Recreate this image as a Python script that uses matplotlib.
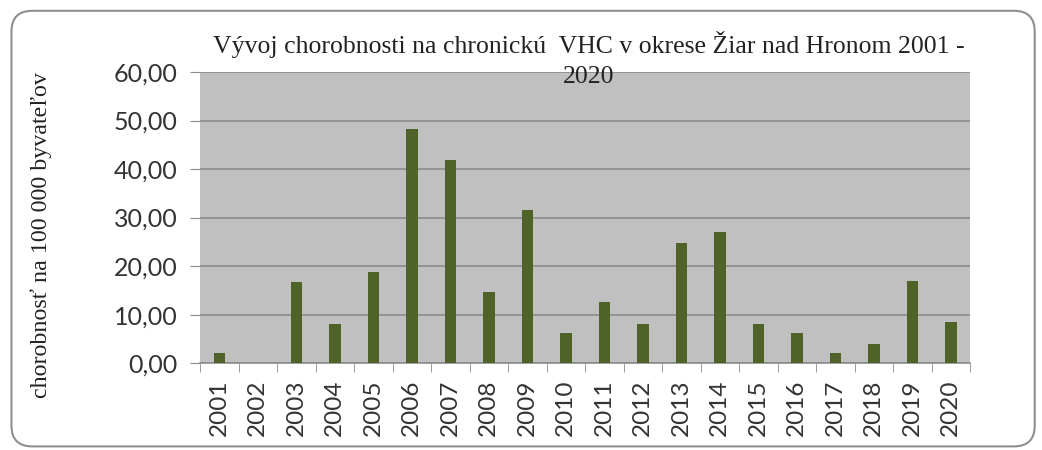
import matplotlib.pyplot as plt
from matplotlib.patches import FancyBboxPatch
from matplotlib.ticker import FixedLocator, FuncFormatter

years = [str(y) for y in range(2001, 2021)]
values = [2.0, 0.0, 16.7, 8.1, 18.7, 48.2, 41.8, 14.6, 31.6, 6.2,
          12.7, 8.1, 24.8, 27.0, 8.1, 6.2, 2.0, 4.0, 16.9, 8.4]
y_ticks = [0, 10, 20, 30, 40, 50, 60]

title = "Vývoj chorobnosti na chronickú  VHC v okrese Žiar nad Hronom 2001 -\n2020"
ylabel = "chorobnosť na 100 000 byvateľov"

fig = plt.figure(figsize=(10.42, 4.5), dpi=100)
fig.patch.set_facecolor("white")

# rounded frame around the chart, kept behind the axes
frame = FancyBboxPatch((0.011, 0.008), 0.982, 0.968,
                       boxstyle="round,pad=0,rounding_size=0.02",
                       transform=fig.transFigure, facecolor="white",
                       edgecolor="#8f8f8f", linewidth=1.5, mutation_aspect=2.3,
                       zorder=-10)
fig.patches.append(frame)

ax = fig.add_axes([0.192, 0.193, 0.739, 0.647])
ax.set_zorder(1)
ax.set_facecolor("#c0c0c0")

x = list(range(len(years)))
ax.bar(x, values, width=0.3, color="#4f6228", zorder=3)

ax.set_xlim(-0.5, len(years) - 0.5)
ax.set_ylim(0, 60)
ax.set_yticks(y_ticks)
ax.yaxis.set_major_formatter(FuncFormatter(lambda v, p: f"{v:.2f}".replace(".", ",")))
ax.grid(axis="y", color="#8c8c8c", linewidth=1.2, zorder=1)

ax.set_xticks(x)
ax.set_xticklabels(years, rotation=90, fontsize=17.5, family="Lato", color="#333333")
ax.xaxis.set_minor_locator(FixedLocator([i - 0.5 for i in range(len(years) + 1)]))
ax.tick_params(axis="x", which="major", length=0, pad=12)
ax.tick_params(axis="x", which="minor", length=6.5, color="#8c8c8c", direction="out")
ax.tick_params(axis="y", length=7, color="#8c8c8c", labelsize=18, pad=9)
for lab in ax.get_yticklabels():
    lab.set_family("Lato")
    lab.set_color("#333333")

for side in ["top", "right", "left"]:
    ax.spines[side].set_visible(False)
ax.spines["bottom"].set_color("#8c8c8c")
ax.spines["bottom"].set_linewidth(1.2)

fig.text(0.565, 0.805, title, ha="center", va="bottom", fontsize=18.5,
         family="Liberation Serif", color="#222222", linespacing=1.45, zorder=5)
fig.text(0.04, 0.478, ylabel, rotation=90, ha="center", va="center",
         fontsize=17.3, family="Liberation Serif", color="#222222")

fig.savefig("out.png", dpi=100)
